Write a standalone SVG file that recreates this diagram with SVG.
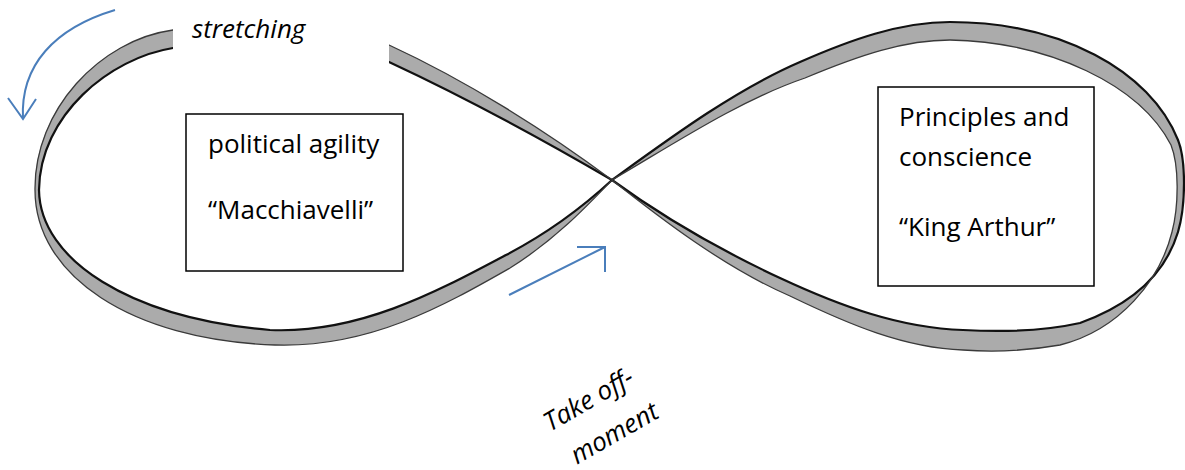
<svg xmlns="http://www.w3.org/2000/svg" width="1185" height="470" viewBox="0 0 1185 470">
<style>
.band{fill:#ababab;stroke:none}
.edgeA{fill:none;stroke:#111;stroke-width:2.2}
.edgeB{fill:none;stroke:#3a3a3a;stroke-width:1.3}
.box{fill:#fff;stroke:#000;stroke-width:1.5}
.t{font-family:"Open Sans","Liberation Sans",sans-serif;font-size:26px;fill:#000}
.it{font-style:italic}
.arrow{fill:none;stroke:#4a7ebb;stroke-width:2}
</style>
<rect width="1185" height="470" fill="#fff"/>
<g id="ribbon">
  <!-- left loop -->
  <path class="band" d="M 612 180 C 540 138, 460 95, 389 62 C 320 40, 240 36, 173 48 C 110 58, 40 115, 39 190 C 40 260, 130 318, 270 330 C 360 334, 440 290, 506 255 C 550 232, 585 205, 612 180 C 588 205, 555 240, 510 268 C 445 305, 370 348, 275 345 C 130 340, 35 275, 35 190 C 34 110, 100 40, 173 30 C 240 20, 320 22, 389 45 C 465 80, 545 130, 612 180 Z"/>
  <path class="edgeA" d="M 612 180 C 540 138, 460 95, 389 62 C 320 40, 240 36, 173 48 C 110 58, 40 115, 39 190 C 40 260, 130 318, 270 330 C 360 334, 440 290, 506 255 C 550 232, 585 205, 612 180"/>
  <path class="edgeB" d="M 612 180 C 545 130, 465 80, 389 45 C 320 22, 240 20, 173 30 C 100 40, 34 110, 35 190 C 35 275, 130 340, 275 345 C 370 348, 445 305, 510 268 C 555 240, 588 205, 612 180"/>
  <!-- right loop -->
  <path class="band" d="M 612 180 C 670 138, 735 90, 800 62 C 850 40, 900 22, 950 22 C 1060 22, 1150 70, 1178 140 C 1186 160, 1186 205, 1178 232 C 1165 275, 1130 305, 1080 323 C 1040 332, 1000 332, 963 330 C 900 328, 840 306, 780 278 C 720 250, 660 215, 612 180 C 660 218, 725 268, 790 296 C 850 325, 905 348, 963 350 C 990 352, 1020 352, 1060 345 C 1120 330, 1160 280, 1172 232 C 1179 205, 1179 165, 1171 145 C 1140 85, 1050 42, 950 40 C 905 40, 860 55, 805 78 C 740 100, 672 145, 612 180 Z"/>
  <path class="edgeA" d="M 612 180 C 670 138, 735 90, 800 62 C 850 40, 900 22, 950 22 C 1060 22, 1150 70, 1178 140 C 1186 160, 1186 205, 1178 232 C 1165 275, 1130 305, 1080 323 C 1040 332, 1000 332, 963 330 C 900 328, 840 306, 780 278 C 720 250, 660 215, 612 180"/>
  <path class="edgeB" d="M 612 180 C 672 145, 740 100, 805 78 C 860 55, 905 40, 950 40 C 1050 42, 1140 85, 1171 145 C 1179 165, 1179 205, 1172 232 C 1160 280, 1120 330, 1060 345 C 1020 352, 990 352, 963 350 C 905 348, 850 325, 790 296 C 725 268, 660 218, 612 180"/>
  <!-- white text area hiding the ribbon top -->
  <rect x="173" y="0" width="216" height="68" fill="#fff"/>
</g>
<g id="label-stretching">
  <text class="t it" x="192" y="38">stretching</text>
</g>
<g id="node-machiavelli">
  <rect class="box" x="186" y="114" width="217" height="157"/>
  <text class="t" x="208" y="153">political agility</text>
  <text class="t" x="208" y="219">“Macchiavelli”</text>
</g>
<g id="node-arthur">
  <rect class="box" x="878" y="87" width="216" height="199"/>
  <text class="t" x="899" y="126">Principles and</text>
  <text class="t" x="899" y="166">conscience</text>
  <text class="t" x="899" y="236">“King Arthur”</text>
</g>
<g id="label-takeoff">
  <text class="t it" transform="rotate(-30 550 432)" x="550" y="432">Take off-</text>
  <text class="t it" transform="rotate(-30 550 432)" x="557" y="474">moment</text>
</g>
<g id="connectors">
  <path class="arrow" d="M 115 10 C 55 28, 20 65, 23 119"/>
  <polyline class="arrow" points="8,98 23,119 36,99"/>
  <line class="arrow" x1="509" y1="295" x2="605" y2="247"/>
  <polyline class="arrow" points="577,247 605,247 605,272"/>
</g>
</svg>
